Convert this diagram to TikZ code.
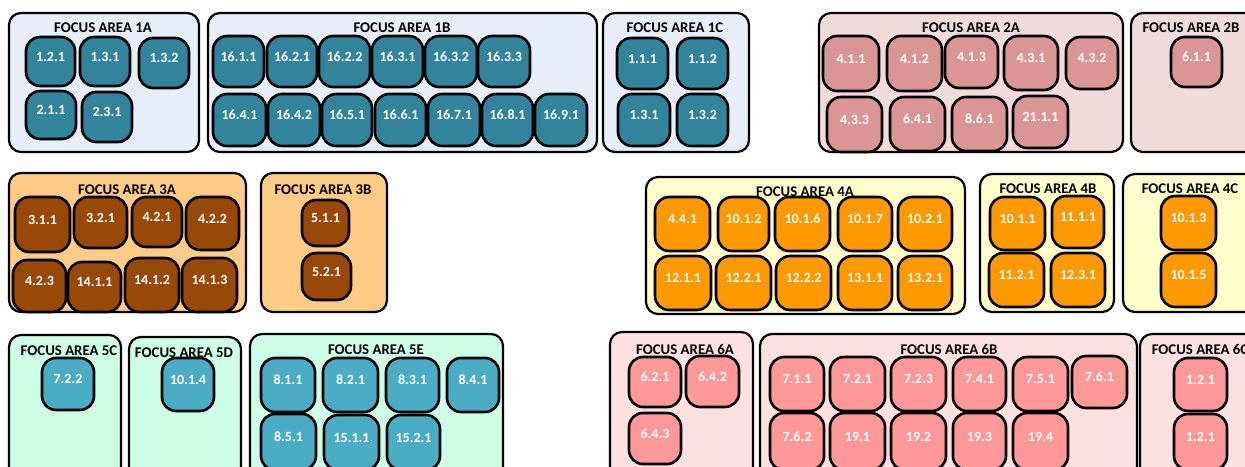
\documentclass[tikz,border=0pt]{standalone}
\usepackage{fontspec}
\setmainfont{Carlito}
\usetikzlibrary{fit}
\definecolor{fillA}{HTML}{E8EEF8}
\definecolor{nodeA}{HTML}{31849B}
\definecolor{fillB}{HTML}{F2DCDB}
\definecolor{nodeB}{HTML}{D99694}
\definecolor{fillC}{HTML}{FFCC88}
\definecolor{nodeC}{HTML}{984807}
\definecolor{fillD}{HTML}{FFFFCC}
\definecolor{nodeD}{HTML}{FF9900}
\definecolor{fillE}{HTML}{CCFFE6}
\definecolor{nodeE}{HTML}{4BACC6}
\definecolor{fillF}{HTML}{FDE0E0}
\definecolor{nodeF}{HTML}{FF9999}
\tikzset{
  area/.style={draw=black, line width=2.2pt, rounded corners=12pt, inner sep=0pt},
  tgt/.style={draw=black, line width=2.6pt, rounded corners=14pt, inner sep=0pt,
    text=white, font=\fontsize{14}{14}\selectfont\bfseries},
  ttl/.style={font=\fontsize{14.8}{15}\selectfont\bfseries, inner sep=0pt, anchor=center},
  aA/.style={area, fill=fillA}, nA/.style={tgt, fill=nodeA},
  aB/.style={area, fill=fillB}, nB/.style={tgt, fill=nodeB},
  aC/.style={area, fill=fillC}, nC/.style={tgt, fill=nodeC},
  aD/.style={area, fill=fillD}, nD/.style={tgt, fill=nodeD},
  aE/.style={area, fill=fillE}, nE/.style={tgt, fill=nodeE},
  aF/.style={area, fill=fillF}, nF/.style={tgt, fill=nodeF},
}
\newcommand\farea[6]{\node[#1, fit={(#3,#4)(#5,#6)}] (#2) {};}
\newcommand\tg[7]{\node[#1, fit={(#4,#5)(#6,#7)}] (#2) {#3};}
\begin{document}
\begin{tikzpicture}[x=1pt,y=-1pt]
\useasboundingbox (0,0) rectangle (1245,466);
\clip (0,0) rectangle (1245,466);
% ---------------- Row 1 ----------------
\farea{aA}{fa1a}{9}{13}{199}{152}
\farea{aA}{fa1b}{208}{13}{597}{152}
\farea{aA}{fa1c}{603}{13}{749}{152}
\farea{aB}{fa2a}{819}{13}{1123}{152}
\farea{aB}{fa2b}{1131}{13}{1275}{152}
\node[ttl] (t1a) at (103,28) {FOCUS AREA 1A};
\node[ttl] (t1b) at (402,28) {FOCUS AREA 1B};
\node[ttl] (t1c) at (675,28) {FOCUS AREA 1C};
\node[ttl] (t2a) at (971,28) {FOCUS AREA 2A};
\node[ttl] (t2b) at (1191,28) {FOCUS AREA 2B};
% 1A
\tg{nA}{a1a121}{1.2.1}{26}{37}{75}{86}
\tg{nA}{a1a131}{1.3.1}{80}{37}{130}{86}
\tg{nA}{a1a132}{1.3.2}{139}{38}{189}{88}
\tg{nA}{a1a211}{2.1.1}{26}{91}{76}{139}
\tg{nA}{a1a231}{2.3.1}{82}{92}{132}{142}
% 1B
\tg{nA}{a1b1611}{16.1.1}{213}{36}{264}{87}
\tg{nA}{a1b1621}{16.2.1}{267}{36}{317}{87}
\tg{nA}{a1b1622}{16.2.2}{319}{36}{370}{87}
\tg{nA}{a1b1631}{16.3.1}{372}{36}{423}{87}
\tg{nA}{a1b1632}{16.3.2}{425}{36}{477}{87}
\tg{nA}{a1b1633}{16.3.3}{478}{36}{530}{87}
\tg{nA}{a1b1641}{16.4.1}{213}{94}{266}{146}
\tg{nA}{a1b1642}{16.4.2}{268}{94}{320}{146}
\tg{nA}{a1b1651}{16.5.1}{322}{94}{372}{146}
\tg{nA}{a1b1661}{16.6.1}{375}{94}{426}{146}
\tg{nA}{a1b1671}{16.7.1}{428}{94}{480}{146}
\tg{nA}{a1b1681}{16.8.1}{482}{94}{533}{146}
\tg{nA}{a1b1691}{16.9.1}{535}{94}{587}{146}
% 1C
\tg{nA}{a1c111}{1.1.1}{617}{38}{668}{89}
\tg{nA}{a1c112}{1.1.2}{677}{38}{728}{89}
\tg{nA}{a1c131}{1.3.1}{618}{94}{670}{146}
\tg{nA}{a1c132}{1.3.2}{677}{94}{728}{146}
% 2A
\tg{nB}{a2a411}{4.1.1}{823}{36}{879}{91}
\tg{nB}{a2a412}{4.1.2}{887}{36}{942}{91}
\tg{nB}{a2a413}{4.1.3}{945}{36}{998}{88}
\tg{nB}{a2a431}{4.3.1}{1004}{36}{1058}{90}
\tg{nB}{a2a432}{4.3.2}{1066}{37}{1118}{89}
\tg{nB}{a2a433}{4.3.3}{827}{97}{882}{152}
\tg{nB}{a2a641}{6.4.1}{890}{97}{945}{151}
\tg{nB}{a2a861}{8.6.1}{952}{97}{1007}{151}
\tg{nB}{a2a2111}{21.1.1}{1013}{96}{1068}{148}
% 2B
\tg{nB}{a2b611}{6.1.1}{1171}{37}{1222}{87}
% ---------------- Row 2 ----------------
\farea{aC}{fa3a}{9}{173}{246}{312}
\farea{aC}{fa3b}{261}{173}{387}{312}
\farea{aD}{fa4a}{646}{177}{965}{314}
\farea{aD}{fa4b}{980}{174}{1114}{312}
\farea{aD}{fa4c}{1123}{174}{1275}{312}
\node[ttl] (t3a) at (127,190) {FOCUS AREA 3A};
\node[ttl] (t3b) at (323,190) {FOCUS AREA 3B};
\node[ttl] (t4a) at (805,192) {FOCUS AREA 4A};
\node[ttl] (t4b) at (1048,189) {FOCUS AREA 4B};
\node[ttl] (t4c) at (1190,189) {FOCUS AREA 4C};
% 3A
\tg{nC}{a3a311}{3.1.1}{15}{197}{70}{252}
\tg{nC}{a3a321}{3.2.1}{74}{197}{127}{248}
\tg{nC}{a3a421}{4.2.1}{132}{197}{182}{247}
\tg{nC}{a3a422}{4.2.2}{186}{197}{239}{250}
\tg{nC}{a3a423}{4.2.3}{13}{260}{66}{312}
\tg{nC}{a3a1411}{14.1.1}{68}{262}{121}{312}
\tg{nC}{a3a1412}{14.1.2}{125}{258}{179}{312}
\tg{nC}{a3a1413}{14.1.3}{182}{258}{237}{312}
% 3B
\tg{nC}{a3b511}{5.1.1}{302}{200}{349}{246}
\tg{nC}{a3b521}{5.2.1}{302}{253}{351}{300}
% 4A
\tg{nD}{a4a441}{4.4.1}{655}{197}{710}{251}
\tg{nD}{a4a1012}{10.1.2}{718}{197}{769}{251}
\tg{nD}{a4a1016}{10.1.6}{775}{197}{830}{251}
\tg{nD}{a4a1017}{10.1.7}{838}{197}{892}{251}
\tg{nD}{a4a1021}{10.2.1}{898}{197}{952}{251}
\tg{nD}{a4a1211}{12.1.1}{655}{256}{711}{310}
\tg{nD}{a4a1221}{12.2.1}{716}{256}{771}{310}
\tg{nD}{a4a1222}{12.2.2}{776}{256}{831}{310}
\tg{nD}{a4a1311}{13.1.1}{838}{256}{892}{310}
\tg{nD}{a4a1321}{13.2.1}{898}{256}{952}{310}
% 4B
\tg{nD}{a4b1011}{10.1.1}{990}{197}{1045}{250}
\tg{nD}{a4b1111}{11.1.1}{1052}{196}{1104}{248}
\tg{nD}{a4b1121}{11.2.1}{989}{253}{1044}{307}
\tg{nD}{a4b1231}{12.3.1}{1051}{253}{1105}{307}
% 4C
\tg{nD}{a4c1013}{10.1.3}{1161}{196}{1216}{250}
\tg{nD}{a4c1015}{10.1.5}{1161}{253}{1216}{307}
% ---------------- Row 3 ----------------
\farea{aE}{fa5c}{9}{335}{121}{490}
\farea{aE}{fa5d}{129}{337}{241}{490}
\farea{aE}{fa5e}{250}{334}{503}{490}
\farea{aF}{fa6a}{610}{332}{753}{490}
\farea{aF}{fa6b}{760}{334}{1137}{490}
\farea{aF}{fa6c}{1140}{334}{1275}{490}
\node[ttl] (t5c) at (69,351) {FOCUS AREA 5C};
\node[ttl] (t5d) at (184,353) {FOCUS AREA 5D};
\node[ttl] (t5e) at (376,350) {FOCUS AREA 5E};
\node[ttl] (t6a) at (685,349) {FOCUS AREA 6A};
\node[ttl] (t6b) at (949,349) {FOCUS AREA 6B};
\node[ttl] (t6c) at (1200,349) {FOCUS AREA 6C};
% 5C, 5D
\tg{nE}{a5c722}{7.2.2}{42}{358}{94}{410}
\tg{nE}{a5d1014}{10.1.4}{162}{358}{214}{411}
% 5E
\tg{nE}{a5e811}{8.1.1}{261}{358}{315}{412}
\tg{nE}{a5e821}{8.2.1}{323}{358}{378}{412}
\tg{nE}{a5e831}{8.3.1}{386}{358}{439}{412}
\tg{nE}{a5e841}{8.4.1}{447}{358}{499}{412}
\tg{nE}{a5e851}{8.5.1}{261}{414}{316}{470}
\tg{nE}{a5e1511}{15.1.1}{324}{415}{379}{470}
\tg{nE}{a5e1521}{15.2.1}{387}{415}{440}{470}
% 6A
\tg{nF}{a6a621}{6.2.1}{629}{357}{681}{407}
\tg{nF}{a6a642}{6.4.2}{686}{356}{739}{407}
\tg{nF}{a6a643}{6.4.3}{629}{413}{681}{464}
% 6B
\tg{nF}{a6b711}{7.1.1}{770}{357}{824}{411}
\tg{nF}{a6b721}{7.2.1}{830}{357}{885}{411}
\tg{nF}{a6b723}{7.2.3}{891}{357}{946}{411}
\tg{nF}{a6b741}{7.4.1}{953}{357}{1006}{411}
\tg{nF}{a6b751}{7.5.1}{1013}{357}{1068}{411}
\tg{nF}{a6b761}{7.6.1}{1072}{356}{1127}{408}
\tg{nF}{a6b762}{7.6.2}{770}{413}{824}{470}
\tg{nF}{a6b191}{19.1}{830}{413}{885}{470}
\tg{nF}{a6b192}{19.2}{891}{413}{946}{470}
\tg{nF}{a6b193}{19.3}{953}{413}{1006}{470}
\tg{nF}{a6b194}{19.4}{1013}{413}{1068}{470}
% 6C
\tg{nF}{a6c121a}{1.2.1}{1174}{358}{1227}{411}
\tg{nF}{a6c121b}{1.2.1}{1174}{414}{1227}{470}
\end{tikzpicture}
\end{document}
